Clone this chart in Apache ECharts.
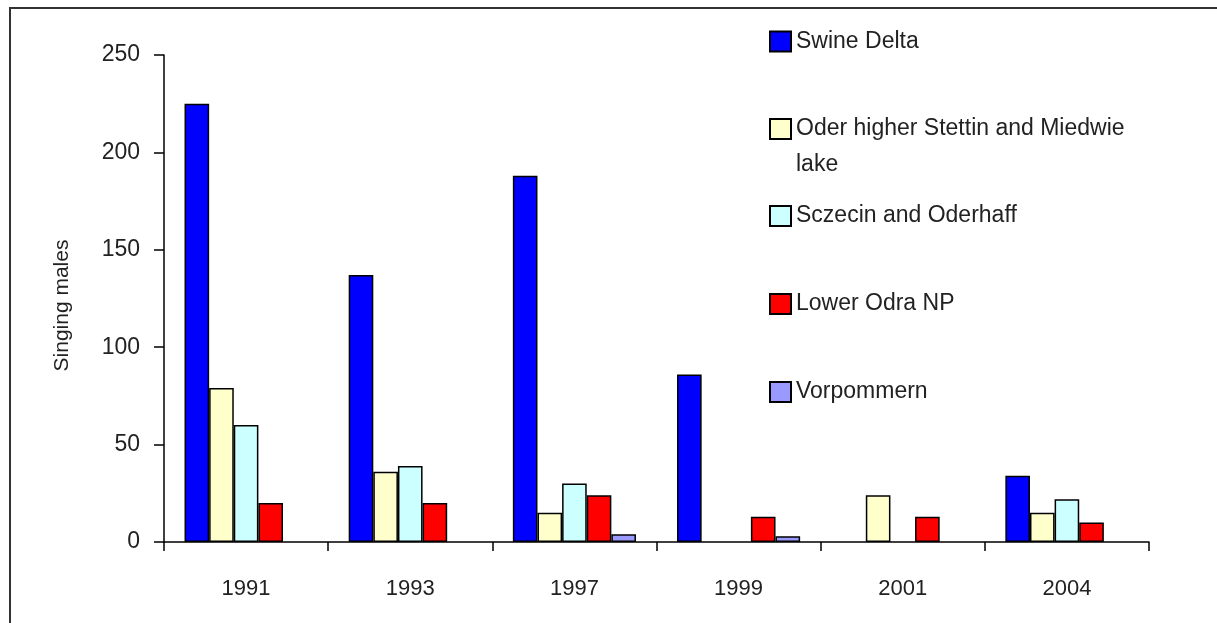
<!DOCTYPE html>
<html>
<head>
<meta charset="utf-8">
<script src="https://cdn.jsdelivr.net/npm/echarts@6/dist/echarts.min.js"></script>
<style>
    html, body { margin: 0; padding: 0; background: #fff; overflow: hidden; }
    #frame { position: absolute; left: 9px; top: 7px; width: 1400px; height: 800px; border: 2px solid #333; }
    #chart { position: absolute; left: 0; top: 0; width: 1217px; height: 623px; }
</style>
</head>
<body>
<div id="frame"></div>
<div id="chart"></div>
<script>
    // categories
    var years = ['1991', '1993', '1997', '1999', '2001', '2004'];
    // singing males per area
    var swineDelta = [225, 137, 188, 86, null, 34];
    var oderHigher = [79, 36, 15, null, 24, 15];
    var sczecin = [60, 39, 30, null, null, 22];
    var lowerOdra = [20, 20, 24, 13, 13, 10];
    var vorpommern = [null, null, 4, 3, null, null];

    var names = ['Swine Delta', 'Oder higher Stettin and Miedwie\nlake', 'Sczecin and Oderhaff', 'Lower Odra NP', 'Vorpommern'];
    var values = [swineDelta, oderHigher, sczecin, lowerOdra, vorpommern];
    var colors = ['#0000ff', '#ffffcc', '#ccffff', '#ff0000', '#9999ff'];

    var font = 'Arial, "Liberation Sans", sans-serif';
    var legendLine = 36;
    var legendTop = [23.5, 75, 198, 286, 374];

    var series = [];
    var legends = [];
    for (var i = 0; i < names.length; i++) {
        series.push({
            name: names[i],
            type: 'bar',
            data: values[i],
            barGap: '0%',
            barCategoryGap: '25%',
            itemStyle: {
                color: colors[i],
                borderColor: '#000',
                borderWidth: 1.5
            }
        });
        // two-line entry: blank first line so the icon sits beside the first text line
        var twoLines = names[i].indexOf('\n') >= 0;
        legends.push({
            data: [names[i]],
            left: 769,
            top: legendTop[i],
            padding: 0,
            icon: 'rect',
            itemWidth: 21,
            itemHeight: 20,
            selectedMode: false,
            formatter: twoLines ? function (n) { return ' \n' + n; } : '{name}',
            textStyle: {
                fontFamily: font,
                fontSize: 23,
                color: '#222',
                lineHeight: legendLine
            }
        });
    }

    var myChart = echarts.init(document.getElementById('chart'));
    myChart.setOption({
        animation: false,
        textStyle: { fontFamily: font },
        legend: legends,
        grid: {
            left: 164,
            right: 68,
            top: 55,
            bottom: 81,
            containLabel: false
        },
        xAxis: {
            type: 'category',
            data: years,
            axisLine: { lineStyle: { color: '#000', width: 1.5 } },
            axisTick: { show: true, length: 9, lineStyle: { color: '#000', width: 1.5 } },
            axisLabel: { fontFamily: font, fontSize: 22, color: '#222', margin: 36 },
            splitLine: { show: false }
        },
        yAxis: {
            type: 'value',
            min: 0,
            max: 250,
            interval: 50,
            name: 'Singing males',
            nameLocation: 'middle',
            nameGap: 91,
            nameTextStyle: { fontFamily: font, fontSize: 21, color: '#222', padding: [0, 14, 0, 0] },
            axisLine: { show: true, lineStyle: { color: '#000', width: 1.5 } },
            axisTick: { show: true, length: 10, lineStyle: { color: '#000', width: 1.5 } },
            axisLabel: { fontFamily: font, fontSize: 23, color: '#222', margin: 24 },
            splitLine: { show: false }
        },
        series: series
    });
</script>
</body>
</html>
